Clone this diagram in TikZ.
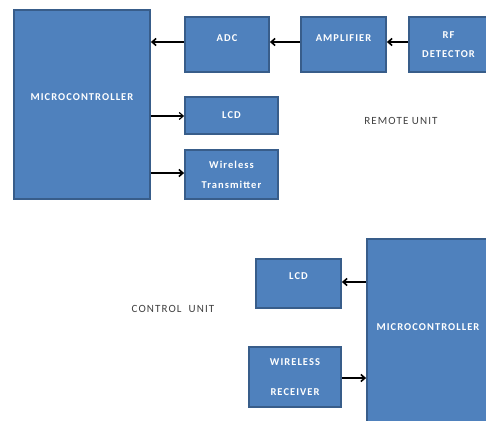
\documentclass[tikz,border=0pt]{standalone}
\usepackage{fontspec}
\setmainfont{Carlito}[LetterSpace=10]
\usetikzlibrary{arrows.meta}
\definecolor{boxfill}{HTML}{4F81BD}
\definecolor{boxline}{HTML}{385D8A}
\begin{document}
\begin{tikzpicture}[x=1pt,y=-1pt,
  blk/.style={draw=boxline,fill=boxfill,line width=1.8pt,text=white,font=\fontsize{10.5}{12}\selectfont\bfseries,align=center,inner sep=0pt},
  conn/.style={line width=1.6pt,-{Straight Barb[length=4pt,width=7pt]}},
  lbl/.style={text=black!75,font=\fontsize{11}{12}\selectfont}]
\useasboundingbox (0,0) rectangle (486,420);
% remote unit
\node[blk,minimum width=136pt,minimum height=189pt] (mc1) at (82,104.5) {MICROCONTROLLER\\[3pt]};
\node[blk,minimum width=84pt,minimum height=55pt] (adc) at (227,44.5) {ADC\\[0pt]};
\node[blk,minimum width=85pt,minimum height=55pt] (amp) at (343.5,44.5) {AMPLIFIER\\[0pt]};
\node[blk,minimum width=79pt,minimum height=55pt] (rf) at (448.5,44.5) {RF\\[7pt]DETECTOR};
\node[blk,minimum width=93pt,minimum height=37pt] (lcd1) at (231.5,115.5) {LCD};
\node[blk,minimum width=93pt,minimum height=49pt] (tx) at (231.5,174.5) {Wireless\\[8pt]Transmitter};
\node[lbl] (rem) at (401,121) {REMOTE UNIT};
\draw[conn] (adc.west |- 0,42) -- (mc1.east |- 0,42);
\draw[conn] (amp.west |- 0,42) -- (adc.east |- 0,42);
\draw[conn] (rf.west |- 0,42) -- (amp.east |- 0,42);
\draw[conn,line width=1.2pt] (mc1.east |- 0,116) -- (lcd1.west |- 0,116);
\draw[conn] (mc1.east |- 0,173) -- (tx.west |- 0,173);
% control unit
\node[blk,minimum width=122pt,minimum height=186pt] (mc2) at (428,332) {MICROCONTROLLER\\[-3pt]};
\node[blk,minimum width=85pt,minimum height=49pt] (lcd2) at (298.5,283.5) {LCD\\[3pt]};
\node[blk,minimum width=92pt,minimum height=60pt] (rx) at (295,377) {WIRELESS\\[18pt]RECEIVER};
\node[lbl] (ctl) at (173,309) {CONTROL\ \ UNIT};
\draw[conn] (mc2.west |- 0,282) -- (lcd2.east |- 0,282);
\draw[conn] (rx.east |- 0,378) -- (mc2.west |- 0,378);
\end{tikzpicture}
\end{document}
